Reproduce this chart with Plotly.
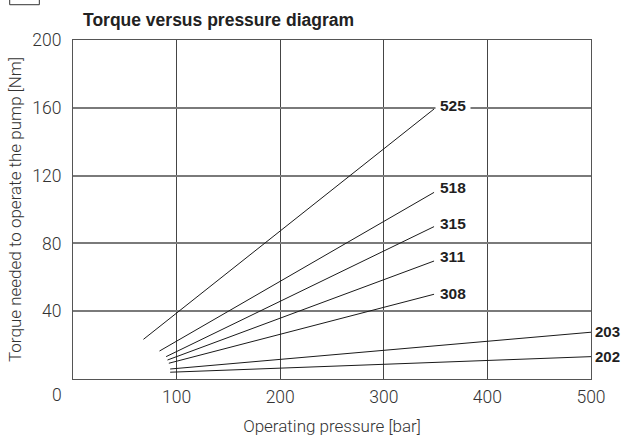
import plotly.graph_objects as go

# ---- data ----
models = ["525", "518", "315", "311", "308", "203", "202"]
p_start = [68.0, 83.5, 89.9, 91.2, 92.5, 93.8, 93.8]      # bar
p_end = [348.5, 348.5, 348.5, 348.5, 348.5, 500, 500]     # bar
t_start = [23.4, 16.5, 13.2, 11.2, 9.3, 5.9, 4.0]         # Nm
t_end = [159.3, 110.1, 89.9, 69.6, 50.0, 27.6, 13.2]      # Nm

label_x = [349.3, 349.3, 349.3, 349.3, 349.3, 500, 500]
label_y = [161.2, 112.7, 92.0, 72.0, 50.7, 27.9, 13.2]

x_ticks = [100, 200, 300, 400, 500]
y_ticks = [40, 80, 120, 160, 200]

FONT = "Liberation Sans, Arial, sans-serif"
LIGHT = "Roboto, Liberation Sans, sans-serif"
X_MAX = 500

fig = go.Figure()
for m, x0, x1, y0, y1 in zip(models, p_start, p_end, t_start, t_end):
    fig.add_trace(go.Scatter(x=[x0, x1], y=[y0, y1], mode="lines",
                             line=dict(color="#1a1a1a", width=1),
                             name=m, showlegend=False, hoverinfo="skip"))

for m, lx, ly in zip(models, label_x, label_y):
    edge = lx >= X_MAX
    fig.add_annotation(x=(lx / X_MAX) if edge else lx, xref="paper" if edge else "x",
                       y=ly, yref="y", text="<b>" + m + "</b>",
                       showarrow=False, xanchor="left", yanchor="middle",
                       xshift=3 if edge else 0,
                       font=dict(family=FONT, size=15 if edge else 15.5, color="#1f1f1f"),
                       bgcolor="white" if m == "525" else "rgba(0,0,0,0)",
                       borderpad=0 if edge else 4)

# origin "0" label shared by both axes
fig.add_annotation(x=-0.031, y=-0.047, xref="paper", yref="paper", text="0",
                   showarrow=False, xanchor="center", yanchor="middle",
                   font=dict(family=LIGHT, size=17.5, color="#333333", weight=300))

# title
fig.add_annotation(x=0.016, y=1.06, xref="paper", yref="paper",
                   text="<b>Torque versus pressure diagram</b>",
                   showarrow=False, xanchor="left", yanchor="middle",
                   font=dict(family=FONT, size=17.5, color="#222222"))

# cropped page box remnant at top-left
fig.add_shape(type="path", xref="paper", yref="paper",
              path="M -0.1222 1.13 L -0.1222 1.1041 L -0.0650 1.1041 L -0.0650 1.13",
              line=dict(color="#333333", width=1))

fig.update_layout(
    width=626, height=436,
    margin=dict(l=73, r=35, t=40, b=57),
    plot_bgcolor="white", paper_bgcolor="white",
    font=dict(family=LIGHT, size=17.5, color="#333333", weight=300),
    xaxis=dict(range=[0, X_MAX], tickvals=x_ticks, showgrid=True, automargin=False,
               gridcolor="#454545", gridwidth=1, zeroline=False,
               showline=True, linecolor="#555555", linewidth=1.2, mirror=True,
               ticks="", ticklabelstandoff=2,
               tickfont=dict(family=LIGHT, size=17.5, color="#333333", weight=300),
               title=dict(text="Operating pressure [bar]", standoff=14,
                          font=dict(family=LIGHT, size=17, color="#333333", weight=300))),
    yaxis=dict(range=[0, 200], tickvals=y_ticks, showgrid=True, automargin=False,
               gridcolor="#7a7a7a", gridwidth=1.5, zeroline=False,
               showline=True, linecolor="#555555", linewidth=1.2, mirror=True,
               ticks="", ticklabelstandoff=7,
               tickfont=dict(family=LIGHT, size=17.5, color="#333333", weight=300),
               title=dict(text="Torque needed to operate the pump [Nm]", standoff=6,
                          font=dict(family=LIGHT, size=17, color="#333333", weight=300))),
)

fig.write_html("out.html", config={"displayModeBar": False},
               post_script="document.body.style.margin='0';document.body.style.overflow='hidden';")
